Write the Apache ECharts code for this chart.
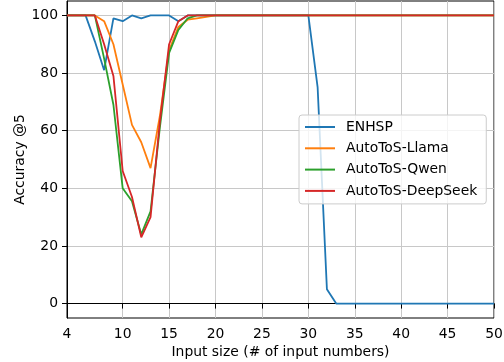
<!DOCTYPE html>
<html>
<head>
<meta charset="utf-8">
<script src="https://cdn.jsdelivr.net/npm/echarts@6/dist/echarts.min.js"></script>
<style>html,body{margin:0;padding:0;background:#fff;}#c{width:504px;height:362px;}</style>
</head>
<body>
<div id="c"></div>
<script>
const inputSizes = [4,5,6,7,8,9,10,11,12,13,14,15,16,17,18,19,20,21,22,23,24,25,26,27,28,29,30,31,32,33,34,35,36,37,38,39,40,41,42,43,44,45,46,47,48,49,50];
const enhsp = [100,100,100,91,81,99,98,100,99,100,100,100,98,100,100,100,100,100,100,100,100,100,100,100,100,100,100,75,5,0,0,0,0,0,0,0,0,0,0,0,0,0,0,0,0,0,0];
const llama = [100,100,100,100,98,90,76,62,56,47,65,88,96,98.5,99,99.5,100,100,100,100,100,100,100,100,100,100,100,100,100,100,100,100,100,100,100,100,100,100,100,100,100,100,100,100,100,100,100];
const qwen = [100,100,100,100,85,69,40,35.5,24,32,61,87,95,99,100,100,100,100,100,100,100,100,100,100,100,100,100,100,100,100,100,100,100,100,100,100,100,100,100,100,100,100,100,100,100,100,100];
const deepseek = [100,100,100,100,90,79,46,37,23,30,63,90,98,100,100,100,100,100,100,100,100,100,100,100,100,100,100,100,100,100,100,100,100,100,100,100,100,100,100,100,100,100,100,100,100,100,100];
const xTicks = [4,10,15,20,25,30,35,40,45,50];
const yTicks = [0,20,40,60,80,100];
const seriesNames = ['ENHSP','AutoToS-Llama','AutoToS-Qwen','AutoToS-DeepSeek'];
const seriesValues = [enhsp, llama, qwen, deepseek];
const colors = ['#1f77b4','#ff7f0e','#2ca02c','#d62728'];

const font = 'DejaVu Sans';
const fs = 13.9;
const chart = echarts.init(document.getElementById('c'), null, {renderer:'canvas'});
chart.setOption({
  animation: false,
  backgroundColor: '#fff',
  color: colors,
  grid: {left: 67, right: 10, top: 1, height: 317, outerBoundsMode: 'none', containLabel: false,
         show: true, borderColor: '#000', borderWidth: 1, backgroundColor: 'transparent'},
  xAxis: {
    type: 'value', min: 4, max: 50,
    name: 'Input size (# of input numbers)', nameLocation: 'middle', nameGap: 27, nameMoveOverlap: false,
    nameTextStyle: {fontFamily: font, fontSize: fs, color: '#000'},
    axisLine: {show: true, lineStyle: {color: '#000', width: 1}},
    axisTick: {show: true, length: 5, lineStyle: {color: '#000'}, customValues: xTicks},
    axisLabel: {fontFamily: font, fontSize: fs, color: '#000', margin: 9, customValues: xTicks},
    splitLine: {show: true, lineStyle: {color: '#c8c8c8', width: 1}}
  },
  yAxis: {
    type: 'value', min: -5, max: 105,
    name: 'Accuracy @5', nameLocation: 'middle', nameGap: 40, nameMoveOverlap: false,
    nameTextStyle: {fontFamily: font, fontSize: fs, color: '#000'},
    axisLine: {show: true, lineStyle: {color: '#000', width: 1}},
    axisTick: {show: true, length: 5, lineStyle: {color: '#000'}, customValues: yTicks},
    axisLabel: {fontFamily: font, fontSize: fs, color: '#000', margin: 9, customValues: yTicks},
    splitLine: {show: true, lineStyle: {color: '#c8c8c8', width: 1}}
  },
  legend: {
    orient: 'vertical', left: 299, top: 115,
    padding: [5, 9, 6, 5],
    itemWidth: 30, itemHeight: 14, itemGap: 7.3,
    itemStyle: {opacity: 0},
    backgroundColor: 'rgba(255,255,255,0.8)', borderColor: '#cccccc', borderWidth: 1, borderRadius: 3,
    textStyle: {fontFamily: font, fontSize: fs, color: '#000', padding: [0,0,0,6]},
    data: seriesNames
  },
  series: seriesNames.map((n, i) => ({
    name: n, type: 'line', symbol: 'none', showSymbol: false,
    lineStyle: {width: 1.8, color: colors[i]},
    itemStyle: {color: colors[i]},
    data: inputSizes.map((x, j) => [x, seriesValues[i][j]])
  }))
});
</script>
</body>
</html>
